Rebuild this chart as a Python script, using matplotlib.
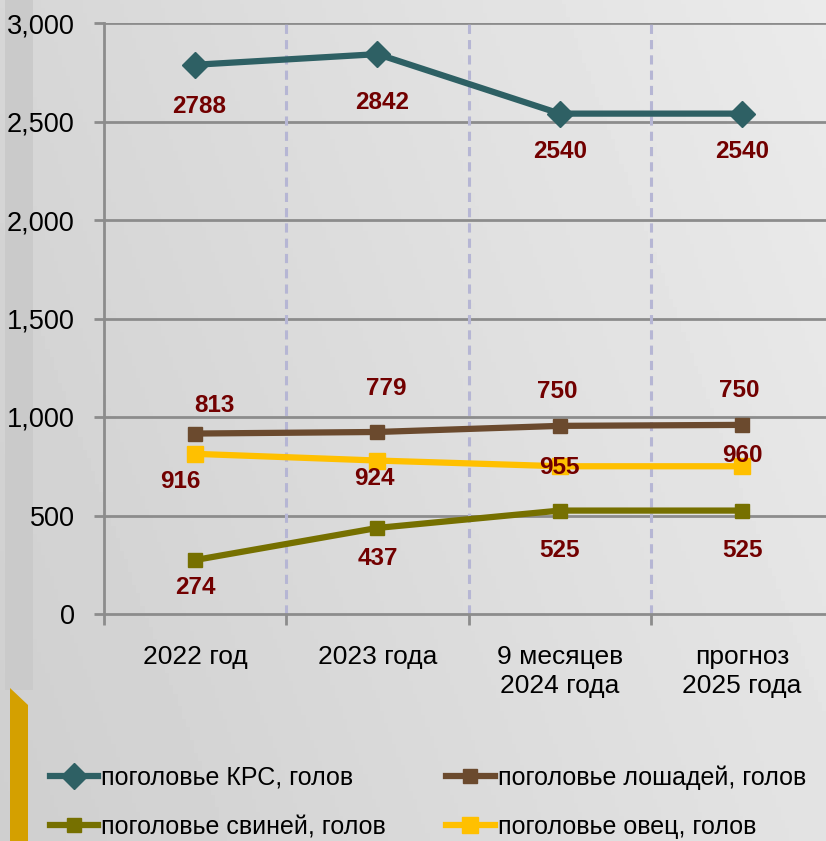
import numpy as np
import matplotlib
matplotlib.use("Agg")
import matplotlib.pyplot as plt
from matplotlib.patches import Polygon
from matplotlib.lines import Line2D

plt.rcParams['font.family'] = ['Liberation Sans', 'DejaVu Sans']

# data
categories = ["2022 год", "2023 года", "9 месяцев\n2024 года", "прогноз\n2025 года"]
krs = [2788, 2842, 2540, 2540]
horses = [916, 924, 955, 960]
pigs = [274, 437, 525, 525]
sheep = [813, 779, 750, 750]
# labels as printed on the chart (horse/sheep labels are swapped in the source)
krs_labels = ["2788", "2842", "2540", "2540"]
horses_labels = ["813", "779", "750", "750"]
pigs_labels = ["274", "437", "525", "525"]
sheep_labels = ["916", "924", "955", "960"]
legend_names = ["поголовье КРС, голов", "поголовье лошадей, голов",
                "поголовье свиней, голов", "поголовье овец, голов"]

fig = plt.figure(figsize=(8.26, 8.41), dpi=100)

# background gradient
bg = fig.add_axes([0, 0, 1, 1], zorder=-10)
gx = np.linspace(0, 1, 200)
gy = np.linspace(0, 1, 200)
G = 0.81 + 0.08 * gx[None, :] + 0.03 * gy[:, None]
bg.imshow(G, cmap="gray", vmin=0, vmax=1, extent=[0, 1, 0, 1], aspect="auto", origin="lower")
bg.add_patch(plt.Rectangle((5 / 826, 1 - 690 / 841), 28 / 826, 690 / 841, color="#cacaca", lw=0))
bg.add_patch(Polygon([(10 / 826, 0), (10 / 826, 1 - 688 / 841), (28 / 826, 1 - 705 / 841), (28 / 826, 0)],
                     closed=True, color="#d4a000", lw=0))
bg.set_xlim(0, 1)
bg.set_ylim(0, 1)
bg.axis("off")

ax = fig.add_axes([104 / 826, 1 - 614 / 841, 1 - 104 / 826, 591 / 841])
ax.patch.set_alpha(0)
x = np.arange(len(categories))
ax.set_xlim(-0.5, 3.46)
ax.set_ylim(0, 3000)

grid_c = "#8c8c8c"
for v in range(500, 3001, 500):
    ax.axhline(v, color=grid_c, lw=2, zorder=1)
for s in [0.5, 1.5, 2.5]:
    ax.axvline(s, color="#b6b6d4", lw=2.2, ls=(0, (3, 2)), zorder=1)

for sp in ["top", "right"]:
    ax.spines[sp].set_visible(False)
for sp in ["left", "bottom"]:
    ax.spines[sp].set_color(grid_c)
    ax.spines[sp].set_linewidth(2)

ax.set_yticks(range(0, 3001, 500))
ax.set_yticklabels([f"{v:,}" for v in range(0, 3001, 500)], fontsize=19.5)
ax.tick_params(axis="y", length=7, width=2, color=grid_c, pad=14)
ax.set_xticks(x)
ax.set_xticklabels(categories, fontsize=19, linespacing=1.3)
ax.tick_params(axis="x", which="major", length=0, pad=22)
ax.set_xticks([-0.5, 0.5, 1.5, 2.5], minor=True)
ax.tick_params(axis="x", which="minor", length=8, width=2, color=grid_c)

series = [
    (krs, krs_labels, "#2e6064", "D", 13, [-30, -35, -27, -27], [3, 3, 0, 0]),
    (horses, horses_labels, "#6b4a2e", "s", 10, [20, 31, 25, 25], [14, 6, -2, -2]),
    (pigs, pigs_labels, "#767000", "s", 10, [-20, -22, -29, -29], [0, 0, 0, 0]),
    (sheep, sheep_labels, "#ffc000", "s", 11, [-20, -13, -1, 8], [-11, -2, 0, 0]),
]
handles = []
for vals, labs, col, mk, ms, dys, dxs in series:
    ax.plot(x, vals, color=col, lw=4.5, marker=mk, ms=ms, zorder=3)
    handles.append(Line2D([], [], color=col, lw=4.5, marker=mk, ms=ms))
    for xi, v, lab, dy, dx in zip(x, vals, labs, dys, dxs):
        ax.annotate(lab, (xi, v), xytext=(dx, dy), textcoords="offset points",
                    ha="center", va="center", fontsize=17.5, fontweight="bold",
                    color="#720000", zorder=4)

order = [0, 2, 1, 3]
fig.legend([handles[i] for i in order], [legend_names[i] for i in order],
           ncol=2, loc="upper left", bbox_to_anchor=(27 / 826, 1 - 743 / 841),
           frameon=False, fontsize=18, handlelength=1.95, handletextpad=0.12,
           columnspacing=2.4, labelspacing=1.0)

fig.savefig("out.png", dpi=100)
